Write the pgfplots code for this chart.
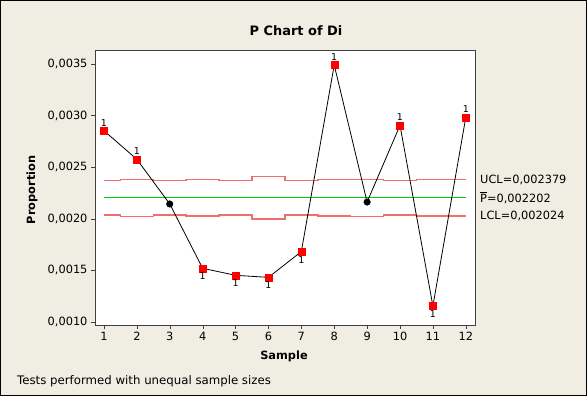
\documentclass[border=0pt]{standalone}
\usepackage{fontspec}
\setmainfont{DejaVu Sans}
\usepackage{pgfplots}
\pgfplotsset{compat=1.18}
\definecolor{bg}{RGB}{240,237,226}
\definecolor{lim}{RGB}{240,110,110}
\definecolor{cl}{RGB}{0,205,0}
\begin{document}
\begin{tikzpicture}
\fill[bg] (0,0) rectangle (587bp,396bp);
\draw[black, line width=1bp] (0.5bp,0.5bp) rectangle (586.5bp,395.5bp);
\begin{axis}[
  at={(95bp,71bp)}, anchor=south west,
  scale only axis, width=380bp, height=275bp,
  xmin=0.727, xmax=12.28, ymin=0.000968, ymax=0.003636,
  xtick={1,2,3,4,5,6,7,8,9,10,11,12},
  ytick={0.0010,0.0015,0.0020,0.0025,0.0030,0.0035},
  tick align=outside, xtick pos=bottom, ytick pos=left,
  major tick length=4bp,
  scaled y ticks=false,
  yticklabel style={/pgf/number format/.cd, fixed, fixed zerofill, precision=4, use comma},
  /pgf/number format/assume math mode=true,
  ticklabel style={font=\fontsize{11.4}{13}\selectfont},
  axis line style={black!75}, tick style={black!75},
  axis background/.style={fill=white},
  clip=false,
]
\addplot[lim, line width=1.5bp, const plot mark mid] coordinates {
(1,0.002370) (2,0.002382) (3,0.002369) (4,0.002379) (5,0.002369) (6,0.002409)
(7,0.002369) (8,0.002379) (9,0.002382) (10,0.002369) (11,0.002379) (12,0.002379)};
\addplot[lim, line width=1.5bp, const plot mark mid] coordinates {
(1,0.002034) (2,0.002022) (3,0.002035) (4,0.002025) (5,0.002035) (6,0.001995)
(7,0.002035) (8,0.002025) (9,0.002022) (10,0.002035) (11,0.002025) (12,0.002024)};
\addplot[cl, line width=1bp] coordinates {(1,0.002202) (12,0.002202)};
\addplot[black, line width=0.8bp] coordinates {
(1,0.002853) (2,0.002575) (3,0.002142) (4,0.001518) (5,0.001450) (6,0.001430)
(7,0.001680) (8,0.003490) (9,0.002161) (10,0.002905) (11,0.001152) (12,0.002983)};
\addplot[only marks, mark=*, mark size=3.3bp, black] coordinates {
(3,0.002142) (9,0.002161)};
\addplot[only marks, mark=square*, mark size=3.5bp, red,
  nodes near coords={1},
  nodes near coords style={font=\fontsize{9.5}{10}\selectfont, text=black, anchor=south, inner sep=1bp, yshift=3.5bp}]
  coordinates {(1,0.002853) (2,0.002575) (8,0.003490) (10,0.002905) (12,0.002983)};
\addplot[only marks, mark=square*, mark size=3.5bp, red,
  nodes near coords={1},
  nodes near coords style={font=\fontsize{9.5}{10}\selectfont, text=black, anchor=north, inner sep=1bp, yshift=-3.5bp}]
  coordinates {(4,0.001518) (5,0.001450) (6,0.001430) (7,0.001680) (11,0.001152)};
\node[anchor=west, font=\fontsize{11.4}{13}\selectfont, inner sep=0pt] at (axis cs:12.28,0.002379) [xshift=5bp] {UCL=0,002379};
\node[anchor=west, font=\fontsize{11.4}{13}\selectfont, inner sep=0pt] at (axis cs:12.28,0.002202) [xshift=5bp] {\ensuremath{\overline{\hbox{P}}}=0,002202};
\node[anchor=west, font=\fontsize{11.4}{13}\selectfont, inner sep=0pt] at (axis cs:12.28,0.002024) [xshift=5bp] {LCL=0,002024};
\end{axis}
\node[font=\fontsize{13}{15}\selectfont\bfseries] at (296bp,365bp) {P Chart of Di};
\node[font=\fontsize{11.4}{13}\selectfont\bfseries] at (284bp,40bp) {Sample};
\node[font=\fontsize{11.4}{13}\selectfont\bfseries, rotate=90] at (32bp,206bp) {Proportion};
\node[font=\fontsize{11.8}{13}\selectfont, anchor=west, inner sep=0pt] at (17bp,15bp) {Tests performed with unequal sample sizes};
\pgfresetboundingbox
\path (0,0) rectangle (587bp,396bp);
\end{tikzpicture}
\end{document}
